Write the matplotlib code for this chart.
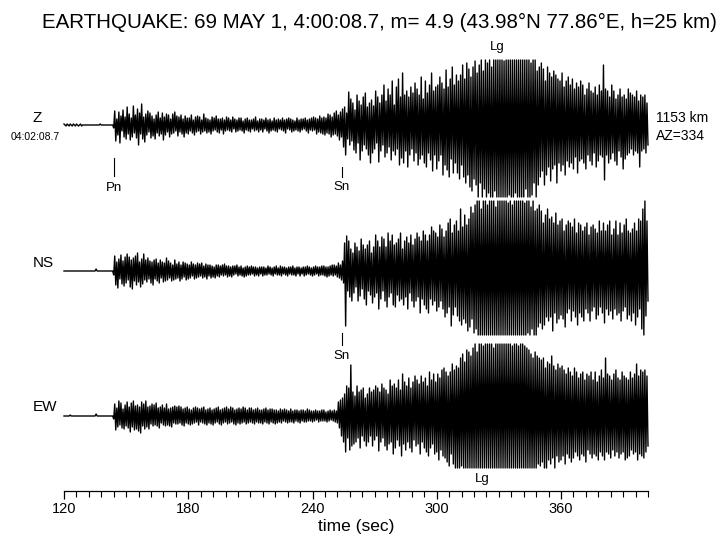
import numpy as np
import matplotlib
matplotlib.use("Agg")
import matplotlib.pyplot as plt
from matplotlib.ticker import MultipleLocator

# ---------- DATA (amplitudes, one sample every 0.5 s) ----------
T_START = 120          # time of first sample (sec)
DT = 0.5               # sample step (sec)

z_amp = [
    1, 0, -1, 1, 0, -1, 1, 0, -1, 1,
    0, -1, 1, 0, -1, 0, 1, -1, 0, 0,
    0, 0, 0, 0, 0, 0, 0, 0, 0, 0,
    0, 0, 0, 0, 0, 1, 0, 0, 0, 0,
    0, 0, 0, 0, 0, 0, 0, 0, -3, 14,
    -16, 6, -10, 13, -18, 9, -6, 15, -12, 8,
    -14, 18, -9, 11, -15, 7, -12, 19, -8, 10,
    -13, 16, -20, 12, -9, 21, -14, 8, -17, 11,
    -10, 14, -7, 12, -13, 9, -11, 6, -14, 10,
    -8, 13, -11, 7, -9, 12, -15, 8, -10, 11,
    -7, 10, -12, 6, -9, 11, -8, 13, -6, 9,
    -11, 8, -7, 10, -9, 6, -12, 9, -8, 7,
    -9, 7, -6, 10, -8, 5, -10, 8, -7, 9,
    -6, 8, -9, 5, -7, 11, -6, 7, -8, 6,
    -7, 5, -9, 8, -6, 7, -5, 9, -7, 6,
    -8, 6, -5, 7, -9, 5, -6, 8, -5, 7,
    -6, 5, -7, 8, -4, 6, -7, 5, -6, 7,
    -5, 7, -6, 4, -8, 6, -5, 7, -6, 5,
    -7, 5, -4, 6, -6, 8, -5, 4, -7, 6,
    -5, 6, -7, 5, -4, 7, -6, 5, -8, 6,
    -6, 4, -5, 7, -6, 5, -7, 6, -4, 5,
    -5, 7, -6, 5, -8, 6, -4, 7, -5, 6,
    -7, 5, -6, 4, -5, 7, -6, 5, -7, 6,
    -5, 6, -4, 7, -6, 5, -8, 6, -5, 7,
    -6, 8, -5, 7, -9, 6, -7, 9, -8, 7,
    -9, 8, -10, 7, -8, 11, -9, 10, -12, 8,
    -10, 12, -9, 14, -11, 10, -15, 13, -12, 16,
    -22, 18, -30, 12, -14, 33, -20, 26, -16, 22,
    -25, 15, -28, 30, -18, 24, -35, 20, -26, 28,
    -20, 32, -24, 18, -30, 22, -38, 25, -28, 19,
    -24, 34, -18, 28, -37, 22, -26, 30, -20, 40,
    -32, 24, -28, 36, -22, 30, -35, 44, -26, 20,
    -30, 38, -24, 46, -40, 28, -33, 52, -38, 30,
    -26, 34, -42, 28, -30, 38, -24, 32, -36, 42,
    -28, 36, -40, 30, -34, 48, -30, 26, -38, 44,
    -42, 32, -28, 40, -35, 52, -46, 34, -30, 38,
    -44, 40, -36, 48, -30, 42, -50, 36, -40, 55,
    -45, 38, -52, 46, -34, 58, -48, 40, -38, 50,
    -48, 44, -54, 50, -40, 60, -52, 46, -58, 62,
    -50, 56, -62, 48, -66, 58, -54, 64, -60, 52,
    -72, 60, -58, 66, -72, 54, -64, 70, -72, 62,
    -68, 70, -72, 58, -72, 70, -66, 70, -72, 68,
    -72, 70, -72, 70, -72, 64, -72, 70, -72, 70,
    -70, 70, -72, 70, -72, 70, -68, 70, -72, 70,
    -72, 70, -72, 66, -72, 70, -64, 70, -72, 70,
    -72, 62, -70, 70, -58, 66, -72, 54, -60, 58,
    -52, 62, -46, 56, -60, 44, -50, 58, -42, 52,
    -56, 48, -44, 54, -40, 50, -58, 46, -38, 44,
    -46, 52, -40, 38, -50, 44, -36, 48, -42, 40,
    -38, 46, -44, 36, -32, 42, -48, 38, -36, 44,
    -34, 40, -38, 30, -44, 36, -30, 42, -36, 34,
    -40, 32, -28, 38, -42, 30, -36, 40, -30, 34,
    -32, 60, -55, 36, -30, 34, -38, 28, -34, 40,
    -28, 34, -36, 26, -40, 30, -26, 36, -32, 28,
    -44, 30, -34, 26, -30, 36, -28, 32, -24, 30,
    -30, 28, -26, 34, -28, 24, -42, 30, -26, 28,
    -24, 30, -28, 22, -20,
]

ns_amp = [
    0, 0, 0, 0, 0, 0, 0, 0, 0, 0,
    0, 0, 0, 0, 0, 0, 0, 0, 0, 0,
    0, 0, 0, 0, 0, 0, 0, 0, 0, 0,
    0, 2, 0, 0, 0, 0, 0, 0, 0, 0,
    0, 0, 0, 0, 0, 0, 0, 0, -4, 15,
    -14, 9, -17, 12, -8, 16, -13, 10, -15, 14,
    -12, 17, -9, 14, -16, 11, -18, 13, -10, 15,
    -14, 18, -11, 9, -16, 12, -13, 17, -9, 11,
    -11, 13, -8, 10, -12, 9, -14, 11, -8, 12,
    -10, 8, -12, 11, -7, 9, -11, 8, -10, 13,
    -9, 10, -7, 8, -10, 6, -9, 11, -8, 7,
    -7, 9, -10, 6, -8, 9, -6, 8, -9, 7,
    -8, 6, -7, 9, -5, 7, -8, 6, -7, 8,
    -6, 7, -5, 8, -7, 5, -6, 7, -8, 6,
    -5, 6, -7, 5, -6, 4, -7, 6, -5, 6,
    -6, 5, -4, 6, -5, 7, -4, 5, -6, 5,
    -5, 4, -6, 5, -4, 5, -3, 6, -5, 4,
    -4, 5, -5, 3, -6, 4, -5, 5, -4, 4,
    -4, 5, -3, 4, -5, 4, -4, 3, -5, 4,
    -3, 4, -5, 4, -4, 3, -4, 5, -3, 4,
    -4, 3, -5, 4, -3, 5, -4, 3, -4, 5,
    -5, 4, -3, 4, -4, 3, -5, 4, -3, 4,
    -4, 5, -4, 3, -5, 4, -3, 4, -5, 3,
    -3, 4, -5, 4, -4, 5, -3, 4, -4, 3,
    -5, 4, -4, 5, -3, 4, -5, 4, -4, 5,
    -4, 5, -5, 4, -6, 4, -5, 5, -4, 6,
    -5, 6, -4, 5, -6, 8, -7, 6, -9, 10,
    -12, 28, -55, 35, -20, 30, -26, 22, -30, 18,
    -22, 28, -16, 24, -30, 20, -25, 32, -18, 26,
    -28, 22, -34, 26, -20, 30, -24, 18, -32, 24,
    -26, 36, -22, 30, -38, 24, -28, 34, -20, 32,
    -30, 24, -36, 38, -26, 30, -22, 36, -34, 26,
    -36, 28, -24, 32, -30, 38, -28, 22, -34, 30,
    -26, 34, -38, 28, -22, 36, -30, 26, -36, 32,
    -30, 38, -26, 34, -42, 30, -28, 40, -34, 36,
    -38, 30, -42, 36, -28, 44, -34, 40, -30, 38,
    -40, 34, -36, 46, -30, 42, -38, 34, -46, 40,
    -42, 48, -36, 52, -55, 38, -44, 46, -36, 50,
    -45, 40, -50, 62, -54, 44, -48, 56, -52, 46,
    -60, 52, -56, 64, -48, 58, -62, 66, -58, 70,
    -66, 70, -70, 62, -70, 70, -64, 70, -70, 66,
    -70, 70, -68, 70, -70, 70, -70, 64, -70, 70,
    -70, 70, -70, 70, -66, 70, -70, 70, -70, 68,
    -70, 70, -70, 66, -70, 70, -68, 70, -70, 70,
    -70, 70, -64, 70, -70, 68, -70, 70, -62, 70,
    -70, 64, -58, 70, -66, 60, -70, 62, -56, 66,
    -52, 60, -58, 48, -54, 56, -46, 62, -50, 52,
    -46, 54, -60, 48, -42, 58, -52, 46, -48, 50,
    -44, 52, -48, 40, -56, 46, -42, 50, -38, 48,
    -50, 44, -40, 52, -46, 38, -54, 48, -42, 46,
    -46, 40, -50, 44, -38, 48, -42, 36, -50, 44,
    -40, 46, -36, 42, -48, 38, -44, 50, -36, 40,
    -42, 48, -52, 40, -38, 46, -44, 50, -40, 36,
    -48, 42, -38, 50, -44, 36, -42, 48, -50, 38,
    -40, 46, -36, 52, -48, 40, -44, 38, -50, 42,
    -42, 48, -54, 40, -46, 52, -38, 50, -58, 62,
    -64, 70, -45, 50, -30,
]

ew_amp = [
    0, 0, 0, 0, 0, 0, 1, 0, 0, 0,
    0, 0, 0, 0, 0, 0, 0, 0, 0, 0,
    0, 0, 0, 0, 0, 0, 0, 0, 0, 0,
    0, 2, 0, 0, 0, 0, 0, 0, 0, 0,
    0, 0, 0, 0, 0, 0, 0, 0, -3, 12,
    -14, 8, -11, 15, -9, 13, -12, 7, -13, 11,
    -10, 14, -12, 9, -16, 13, -11, 15, -14, 10,
    -13, 11, -15, 9, -17, 14, -10, 12, -13, 15,
    -11, 9, -13, 10, -8, 12, -10, 11, -9, 13,
    -10, 8, -12, 9, -7, 11, -9, 8, -10, 12,
    -9, 7, -10, 8, -11, 9, -7, 10, -8, 9,
    -8, 10, -7, 9, -9, 7, -10, 8, -7, 9,
    -8, 7, -9, 6, -8, 8, -7, 9, -6, 8,
    -9, 7, -6, 8, -7, 9, -8, 6, -9, 7,
    -7, 8, -8, 6, -9, 7, -7, 8, -6, 9,
    -8, 6, -9, 7, -7, 8, -6, 9, -8, 7,
    -7, 9, -6, 8, -8, 6, -9, 7, -7, 8,
    -8, 7, -7, 9, -6, 8, -8, 6, -7, 8,
    -6, 8, -7, 6, -8, 7, -6, 8, -7, 6,
    -7, 6, -8, 7, -6, 8, -7, 6, -8, 7,
    -6, 7, -7, 6, -8, 6, -7, 5, -6, 7,
    -7, 6, -5, 7, -6, 6, -7, 5, -6, 7,
    -6, 5, -7, 6, -5, 6, -6, 5, -7, 6,
    -5, 6, -6, 5, -6, 7, -5, 6, -5, 5,
    -6, 5, -5, 6, -4, 5, -6, 5, -5, 6,
    -5, 6, -5, 4, -6, 5, -5, 6, -4, 5,
    -5, 6, -6, 5, -7, 14, -12, 16, -20, 18,
    -26, 22, -36, 30, -22, 28, -34, 51, -30, 24,
    -28, 20, -26, 30, -22, 24, -32, 26, -20, 28,
    -25, 18, -30, 22, -26, 28, -20, 24, -30, 26,
    -24, 30, -20, 28, -35, 24, -26, 32, -22, 28,
    -30, 26, -34, 22, -28, 36, -26, 30, -38, 32,
    -32, 28, -24, 36, -30, 26, -40, 42, -28, 34,
    -34, 30, -26, 38, -32, 28, -36, 34, -24, 40,
    -30, 36, -28, 32, -38, 40, -26, 34, -32, 38,
    -36, 30, -40, 44, -32, 36, -28, 42, -38, 34,
    -36, 42, -44, 38, -34, 46, -40, 48, -42, 44,
    -46, 40, -50, 44, -38, 52, -48, 46, -54, 50,
    -52, 48, -56, 58, -50, 62, -58, 54, -62, 66,
    -56, 64, -70, 60, -62, 68, -66, 72, -70, 64,
    -70, 72, -66, 72, -70, 70, -70, 72, -68, 72,
    -70, 72, -70, 72, -70, 68, -70, 72, -70, 72,
    -70, 72, -70, 72, -70, 72, -66, 72, -70, 72,
    -70, 72, -70, 70, -70, 72, -70, 72, -70, 70,
    -70, 72, -68, 72, -70, 70, -70, 68, -62, 66,
    -58, 62, -66, 58, -52, 64, -56, 60, -48, 58,
    -50, 56, -46, 58, -52, 48, -56, 54, -44, 52,
    -48, 60, -42, 50, -54, 46, -40, 52, -46, 48,
    -44, 50, -40, 46, -48, 42, -38, 48, -42, 44,
    -46, 40, -42, 48, -36, 44, -40, 38, -44, 42,
    -38, 44, -40, 36, -46, 42, -34, 40, -38, 44,
    -42, 36, -38, 44, -40, 34, -44, 40, -36, 46,
    -40, 38, -44, 58, -36, 42, -38, 40, -42, 36,
    -34, 42, -40, 46, -36, 38, -42, 36, -38, 44,
    -36, 40, -44, 38, -42, 36, -40, 44, -34, 38,
    -38, 42, -36, 52, -44, 40, -38, 46, -40, 44,
    -42, 46, -36, 40, -30,
]

components = ["Z", "NS", "EW"]
traces = [z_amp, ns_amp, ew_amp]

# phase picks: (name, time in sec)
phases = [("Pn", 144.3), ("Sn", 254.2), ("Lg", 329.0), ("Sn", 254.2), ("Lg", 322.0)]

title = "EARTHQUAKE: 69 MAY 1, 4:00:08.7, m= 4.9 (43.98\u00b0N 77.86\u00b0E, h=25 km)"
start_clock = "04:02:08.7"
distance_text = "1153 km"
azimuth_text = "AZ=334"

# ---------- LAYOUT (pixel based) ----------
W, H = 723, 541
X0, X1 = 64, 648          # pixel x of 120 s and 402 s
Y_AXIS, Y_TOP = 491, 40
BASELINES = [125, 271, 416]
CLIPS = [(65, 72), (71, 64), (72, 52)]   # (up, down) clip in px

plt.rcParams["font.family"] = ["Liberation Sans", "DejaVu Sans"]

fig = plt.figure(figsize=(W / 100, H / 100), dpi=100)
ax = fig.add_axes([X0 / W, 1 - Y_AXIS / H, (X1 - X0) / W, (Y_AXIS - Y_TOP) / H])
ax.set_xlim(120, 402)
ax.set_ylim(-Y_AXIS, -Y_TOP)

for amp, base, (up, down) in zip(traces, BASELINES, CLIPS):
    a = np.clip(np.array(amp, dtype=float), -down, up)
    t = T_START + DT * np.arange(len(a))
    ax.plot(t, -base + a, color="black", lw=1.0, clip_on=False)

# phase marks
def phase_mark(t, y_tick0, y_tick1, label, y_label):
    if y_tick0 is not None:
        ax.plot([t, t], [-y_tick0, -y_tick1], color="black", lw=0.8)
    ax.text(t, -y_label, label, ha="center", va="center", fontsize=9.5)

phase_mark(phases[0][1], 158, 176, phases[0][0], 188)
phase_mark(phases[1][1], 167, 177, phases[1][0], 187)
phase_mark(phases[2][1], None, None, phases[2][0], 47)
phase_mark(phases[3][1], 333, 345, phases[3][0], 356)
phase_mark(phases[4][1], None, None, phases[4][0], 479)

# axis styling
for s in ["top", "left", "right"]:
    ax.spines[s].set_visible(False)
ax.spines["bottom"].set_linewidth(0.9)
ax.set_yticks([])
ax.xaxis.set_major_locator(MultipleLocator(60))
ax.xaxis.set_minor_locator(MultipleLocator(6))
ax.tick_params(axis="x", which="major", direction="out", length=6, width=0.9, labelsize=10.5, pad=2)
ax.tick_params(axis="x", which="minor", direction="out", length=4, width=0.8)
ax.set_xlabel("time (sec)", fontsize=12.5, labelpad=2)
ax.patch.set_visible(False)

def ftext(x, y, s, **kw):
    fig.text(x / W, 1 - y / H, s, **kw)

ftext(379, 22, title, ha="center", va="center", fontsize=14.8)
ftext(37, 118, components[0], ha="center", va="center", fontsize=11)
ftext(35, 137, start_clock, ha="center", va="center", fontsize=7.5)
ftext(43, 263, components[1], ha="center", va="center", fontsize=11)
ftext(45, 407, components[2], ha="center", va="center", fontsize=11)
ftext(656, 118, distance_text, ha="left", va="center", fontsize=10)
ftext(656, 136, azimuth_text, ha="left", va="center", fontsize=10)

fig.savefig("out.png", dpi=100)
